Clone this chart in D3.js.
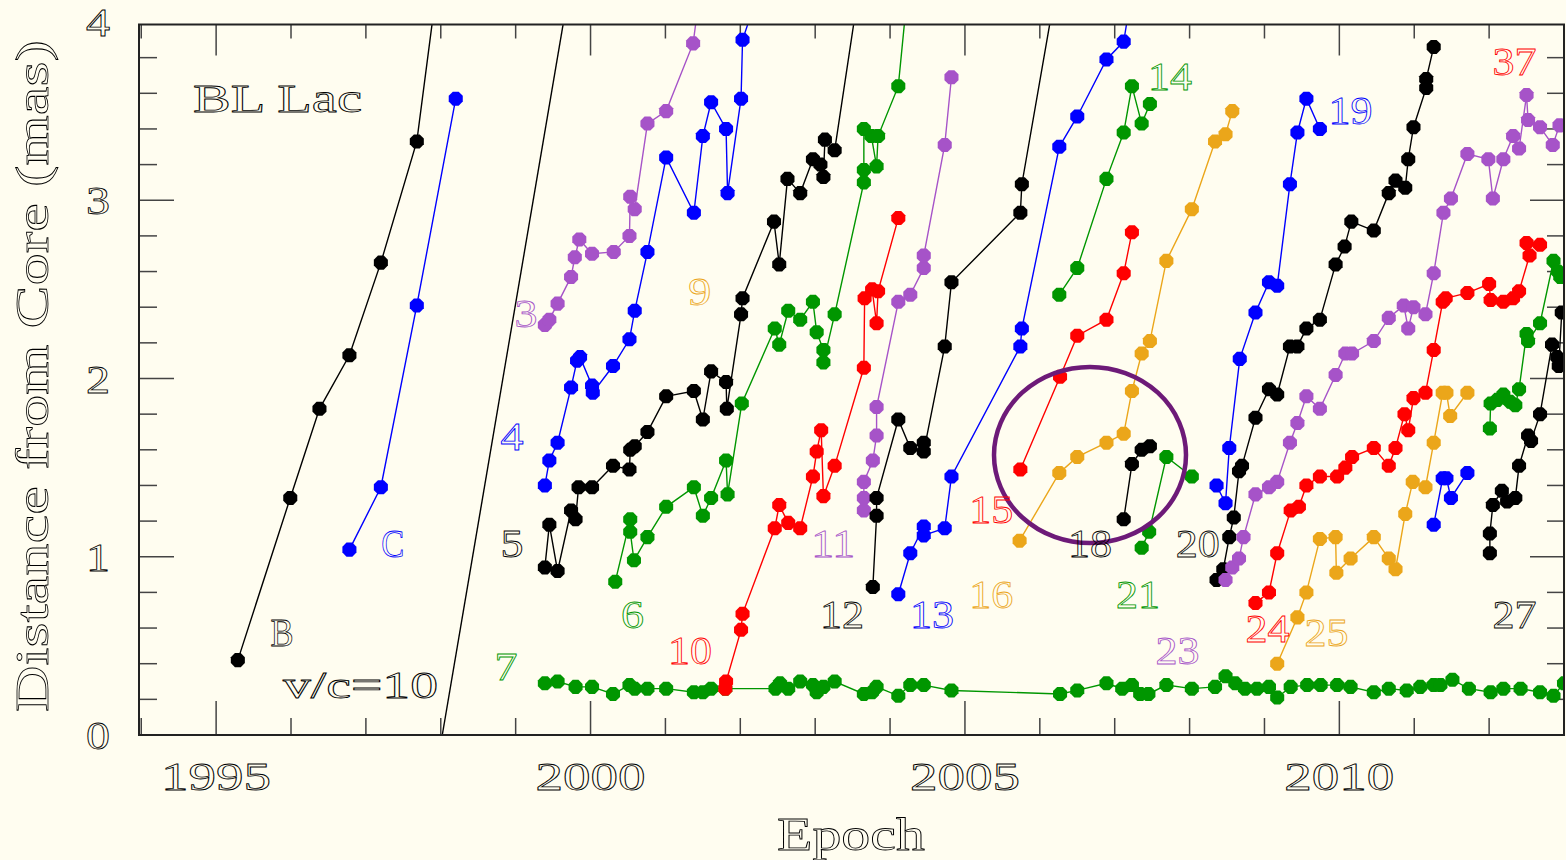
<!DOCTYPE html>
<html>
<head>
<meta charset="utf-8">
<script src="https://cdn.jsdelivr.net/npm/d3@7"></script>
<style>
  html, body { margin: 0; padding: 0; background: #fffdf0; }
  svg { display: block; }
</style>
</head>
<body>
<svg id="chart" width="1566" height="860"></svg>
<script>
// component tracks: [epoch (yr), distance from core (mas)]
// last point of some tracks lies above 4 mas and is clipped by the frame
const compB = [[1995.29,0.42],[1995.99,1.33],[1996.38,1.83],[1996.78,2.13],[1997.20,2.65],[1997.68,3.33],[1997.98,4.3]];
const compC = [[1996.78,1.04],[1997.20,1.39],[1997.68,2.41],[1998.20,3.57]];
const comp3 = [[1999.39,2.30],[1999.45,2.33],[1999.56,2.42],[1999.74,2.57],[1999.79,2.68],[1999.85,2.78],[2000.02,2.70],[2000.31,2.71],[2000.52,2.80],[2000.53,3.02],[2000.59,2.95],[2000.76,3.43],[2001.01,3.50],[2001.37,3.88],[2001.47,4.2]];
const comp4 = [[1999.39,1.40],[1999.45,1.54],[1999.56,1.64],[1999.74,1.95],[1999.82,2.10],[1999.86,2.12],[2000.02,1.96],[2000.03,1.92],[2000.30,2.07],[2000.52,2.22],[2000.59,2.38],[2000.76,2.71],[2001.01,3.24],[2001.38,2.93],[2001.50,3.36],[2001.61,3.55],[2001.81,3.40],[2001.83,3.04],[2002.01,3.57],[2002.03,3.90],[2002.27,4.2]];
const comp5 = [[1999.39,0.94],[1999.45,1.18],[1999.56,0.92],[1999.74,1.26],[1999.80,1.21],[1999.84,1.39],[2000.02,1.39],[2000.30,1.51],[2000.52,1.49],[2000.53,1.60],[2000.59,1.62],[2000.76,1.70],[2001.01,1.90],[2001.38,1.93],[2001.50,1.77],[2001.61,2.04],[2001.81,1.98],[2001.82,1.83],[2002.01,2.36],[2002.03,2.45],[2002.45,2.88],[2002.52,2.64],[2002.63,3.12],[2002.80,3.04],[2002.97,3.23],[2003.07,3.20],[2003.11,3.13],[2003.13,3.34],[2003.26,3.28],[2003.59,4.2]];
const comp6 = [[2000.33,0.86],[2000.53,1.21],[2000.53,1.14],[2000.58,0.98],[2000.76,1.11],[2001.01,1.28],[2001.38,1.39],[2001.50,1.23],[2001.61,1.33],[2001.81,1.54],[2001.83,1.35],[2002.02,1.86],[2002.46,2.28],[2002.52,2.19],[2002.64,2.38],[2002.80,2.33],[2002.97,2.43],[2003.02,2.26],[2003.11,2.16],[2003.11,2.09],[2003.26,2.36],[2003.65,3.10],[2003.65,3.17],[2003.65,3.40],[2003.75,3.36],[2003.82,3.19],[2003.84,3.36],[2004.11,3.64],[2004.24,4.2]];
const comp7 = [[1999.39,0.29],[1999.56,0.30],[1999.80,0.27],[2000.02,0.27],[2000.30,0.23],[2000.52,0.28],[2000.59,0.26],[2000.76,0.26],[2001.01,0.26],[2001.38,0.24],[2001.50,0.24],[2001.61,0.26],[2001.80,0.26],[2002.47,0.26],[2002.53,0.29],[2002.64,0.26],[2002.80,0.30],[2002.97,0.28],[2003.02,0.24],[2003.11,0.27],[2003.26,0.30],[2003.65,0.23],[2003.76,0.24],[2003.82,0.27],[2004.11,0.22],[2004.27,0.28],[2004.45,0.28],[2004.82,0.25],[2006.27,0.23],[2006.50,0.25],[2006.89,0.29],[2007.10,0.26],[2007.23,0.28],[2007.34,0.23],[2007.45,0.23],[2007.69,0.28],[2008.03,0.26],[2008.34,0.27],[2008.48,0.33],[2008.61,0.29],[2008.74,0.26],[2008.90,0.26],[2009.06,0.27],[2009.17,0.21],[2009.35,0.27],[2009.57,0.28],[2009.75,0.28],[2009.97,0.28],[2010.15,0.27],[2010.46,0.24],[2010.66,0.26],[2010.90,0.25],[2011.08,0.27],[2011.26,0.28],[2011.35,0.28],[2011.51,0.31],[2011.73,0.26],[2012.02,0.24],[2012.19,0.26],[2012.42,0.26],[2012.68,0.24],[2012.86,0.22],[2013.00,0.29]];
const comp10 = [[2001.80,0.26],[2001.81,0.30],[2002.01,0.59],[2002.03,0.68],[2002.46,1.16],[2002.52,1.29],[2002.64,1.19],[2002.80,1.16],[2002.97,1.45],[2003.02,1.59],[2003.08,1.71],[2003.11,1.34],[2003.26,1.51],[2003.65,2.06],[2003.66,2.45],[2003.76,2.50],[2003.82,2.31],[2003.84,2.49],[2004.11,2.90]];
const comp11 = [[2003.65,1.26],[2003.65,1.33],[2003.65,1.42],[2003.77,1.54],[2003.82,1.68],[2003.82,1.84],[2004.11,2.43],[2004.27,2.47],[2004.45,2.62],[2004.45,2.69],[2004.73,3.31],[2004.82,3.69]];
const comp12 = [[2003.77,0.83],[2003.82,1.23],[2003.82,1.33],[2004.11,1.77],[2004.27,1.61],[2004.45,1.64],[2004.45,1.59],[2004.73,2.18],[2004.82,2.54],[2005.74,2.93],[2005.76,3.09],[2006.22,4.2]];
const comp13 = [[2004.11,0.79],[2004.27,1.02],[2004.45,1.17],[2004.45,1.12],[2004.73,1.16],[2004.82,1.45],[2005.74,2.18],[2005.76,2.28],[2006.26,3.30],[2006.50,3.47],[2006.89,3.79],[2007.12,3.89],[2007.24,4.2]];
const comp14 = [[2006.26,2.47],[2006.50,2.62],[2006.89,3.12],[2007.12,3.38],[2007.23,3.64],[2007.36,3.43],[2007.47,3.54]];
const comp15 = [[2005.74,1.49],[2006.27,2.01],[2006.50,2.24],[2006.89,2.33],[2007.12,2.59],[2007.23,2.82]];
const comp16 = [[2005.73,1.09],[2006.26,1.47],[2006.50,1.56],[2006.89,1.64],[2007.12,1.69],[2007.23,1.93],[2007.36,2.14],[2007.47,2.21],[2007.69,2.66],[2008.03,2.95],[2008.34,3.33],[2008.48,3.37],[2008.57,3.50]];
const comp18 = [[2007.12,1.21],[2007.23,1.52],[2007.36,1.60],[2007.47,1.62]];
const comp21 = [[2007.36,1.05],[2007.46,1.14],[2007.69,1.56],[2008.03,1.45]];
const comp19 = [[2008.36,1.40],[2008.48,1.30],[2008.53,1.61],[2008.67,2.11],[2008.88,2.37],[2009.06,2.54],[2009.17,2.52],[2009.34,3.09],[2009.44,3.38],[2009.56,3.57],[2009.74,3.40]];
const comp20 = [[2008.36,0.87],[2008.45,0.93],[2008.53,1.11],[2008.59,1.22],[2008.66,1.48],[2008.70,1.51],[2008.88,1.78],[2009.06,1.94],[2009.17,1.91],[2009.34,2.18],[2009.44,2.18],[2009.56,2.28],[2009.74,2.33],[2009.95,2.64],[2010.07,2.74],[2010.16,2.88],[2010.46,2.83],[2010.66,3.04],[2010.75,3.11],[2010.88,3.07],[2010.92,3.23],[2010.99,3.41],[2011.16,3.63],[2011.16,3.68],[2011.26,3.86]];
const comp23 = [[2008.48,0.87],[2008.57,0.94],[2008.66,0.99],[2008.72,1.11],[2008.88,1.35],[2009.06,1.39],[2009.17,1.42],[2009.34,1.64],[2009.44,1.75],[2009.56,1.90],[2009.74,1.83],[2009.95,2.02],[2010.08,2.14],[2010.17,2.14],[2010.46,2.21],[2010.66,2.34],[2010.86,2.41],[2010.92,2.28],[2010.99,2.40],[2011.15,2.36],[2011.26,2.59],[2011.39,2.93],[2011.49,3.01],[2011.71,3.26],[2011.99,3.23],[2012.05,3.01],[2012.19,3.23],[2012.32,3.36],[2012.40,3.29],[2012.50,3.59],[2012.52,3.45],[2012.68,3.41],[2012.85,3.31],[2012.94,3.42]];
const comp24 = [[2008.88,0.74],[2009.06,0.80],[2009.17,1.02],[2009.35,1.26],[2009.46,1.28],[2009.56,1.40],[2009.74,1.45],[2009.97,1.45],[2010.08,1.50],[2010.17,1.56],[2010.46,1.61],[2010.66,1.51],[2010.75,1.61],[2010.87,1.80],[2010.92,1.71],[2010.99,1.89],[2011.15,1.92],[2011.26,2.16],[2011.38,2.43],[2011.42,2.45],[2011.71,2.48],[2012.00,2.53],[2012.02,2.44],[2012.19,2.43],[2012.32,2.45],[2012.40,2.49],[2012.54,2.69],[2012.50,2.76],[2012.68,2.75]];
const comp25 = [[2009.17,0.40],[2009.44,0.66],[2009.56,0.80],[2009.74,1.10],[2009.95,1.11],[2009.96,0.91],[2010.15,0.99],[2010.46,1.11],[2010.66,0.99],[2010.75,0.93],[2010.88,1.24],[2010.98,1.42],[2011.15,1.39],[2011.26,1.64],[2011.38,1.92],[2011.43,1.92],[2011.48,1.79],[2011.71,1.92]];
const compBlueLate = [[2011.26,1.18],[2011.38,1.44],[2011.43,1.44],[2011.49,1.33],[2011.71,1.47]];
const comp27 = [[2012.01,1.02],[2012.01,1.13],[2012.05,1.29],[2012.17,1.37],[2012.24,1.31],[2012.35,1.33],[2012.40,1.51],[2012.52,1.68],[2012.56,1.65],[2012.68,1.80],[2012.84,2.19],[2012.91,2.12],[2012.93,2.07],[2012.97,2.37]];
const compGreenLate = [[2012.01,1.72],[2012.02,1.86],[2012.11,1.88],[2012.19,1.91],[2012.28,1.87],[2012.35,1.85],[2012.40,1.94],[2012.50,2.25],[2012.52,2.21],[2012.68,2.31],[2012.86,2.66],[2012.92,2.60],[2012.95,2.57]];

// v/c = 10 reference line and the highlight ellipse (centre yr, centre mas, half-width yr, half-height mas)
const speedLine = [[1998.02,0],[1999.72,4.2]];
const highlight = [2006.67, 1.571, 1.282, 0.494];

// component labels
const labelNames = ["B","C","3","4","5","7","6","9","10","11","12","13","15","16","14","19","37","18","20","21","23","24","25","27"];
const labelYears = [1995.88,1997.36,1999.14,1998.95,1998.95,1998.87,2000.56,2001.46,2001.33,2003.24,2003.36,2004.56,2005.35,2005.35,2007.74,2010.15,2012.34,2006.67,2008.11,2007.31,2007.84,2009.04,2009.83,2012.34];
const labelMas = [0.50,1.00,2.29,1.60,1.00,0.31,0.60,2.41,0.40,1.00,0.60,0.60,1.19,0.71,3.62,3.43,3.70,1.00,1.00,0.71,0.40,0.52,0.50,0.60];

const xTickYears = [1995, 2000, 2005, 2010];
const yTickValues = [0, 1, 2, 3, 4];

const BLACK = "#000", BLUE = "#0000ff", PURPLE = "#a653c8", GREEN = "#009600", RED = "#f00", ORANGE = "#eba61a";

const components = [
  [compB, BLACK], [compC, BLUE], [comp3, PURPLE], [comp4, BLUE], [comp5, BLACK],
  [comp6, GREEN], [comp7, GREEN], [comp10, RED], [comp11, PURPLE], [comp12, BLACK],
  [comp13, BLUE], [comp14, GREEN], [comp15, RED], [comp16, ORANGE], [comp18, BLACK],
  [comp21, GREEN], [comp19, BLUE], [comp20, BLACK], [comp23, PURPLE], [comp24, RED],
  [comp25, ORANGE], [compBlueLate, BLUE], [comp27, BLACK], [compGreenLate, GREEN]
];
const labelColor = {
  B: BLACK, C: BLUE, "3": PURPLE, "4": BLUE, "5": BLACK, "6": GREEN, "7": GREEN, "9": ORANGE,
  "10": RED, "11": PURPLE, "12": BLACK, "13": BLUE, "14": GREEN, "15": RED, "16": ORANGE,
  "18": BLACK, "19": BLUE, "20": BLACK, "21": GREEN, "23": PURPLE, "24": RED, "25": ORANGE,
  "27": BLACK, "37": RED
};

const svg = d3.select("#chart");
const plotLeft = 139, plotRight = 1564, plotTop = 24.5, plotBottom = 735;

const x = d3.scaleLinear().domain([1993.97, 2013.0]).range([plotLeft, plotRight]);
const y = d3.scaleLinear().domain([0, 4]).range([plotBottom, 22]);

svg.append("rect").attr("width", 1566).attr("height", 860).attr("fill", "#fffdf0");

svg.append("clipPath").attr("id", "plot-clip")
  .append("rect").attr("x", plotLeft).attr("y", plotTop)
  .attr("width", plotRight - plotLeft).attr("height", plotBottom - plotTop);

function hollowText(sel, str, px, py, size, len, color, anchor) {
  return sel.append("text")
    .attr("x", px).attr("y", py)
    .attr("font-family", "'Liberation Serif', 'DejaVu Serif', serif")
    .attr("font-size", size)
    .attr("text-anchor", anchor || "middle")
    .attr("textLength", len).attr("lengthAdjust", "spacingAndGlyphs")
    .attr("fill", "none").attr("stroke", color).attr("stroke-width", 0.8)
    .text(str);
}

function octagon(r) {
  const pts = d3.range(8).map(i => {
    const a = Math.PI / 8 + i * Math.PI / 4;
    return [r * Math.cos(a), r * Math.sin(a)];
  });
  return "M" + pts.join("L") + "Z";
}

// ticks (all pointing inward)
const ticks = svg.append("g").attr("stroke", "#444").attr("stroke-width", 1.5);
const minorYears = d3.range(1994, 2013).filter(v => v % 5 !== 0);
const minorMas = d3.range(1, 20).filter(i => i % 5 !== 0).map(i => i / 5);

function xTicks(vals, y0, len) {
  ticks.selectAll(null).data(vals).join("line")
    .attr("x1", d => x(d)).attr("x2", d => x(d))
    .attr("y1", y0).attr("y2", y0 + len);
}
function yTicks(vals, x0, len) {
  ticks.selectAll(null).data(vals).join("line")
    .attr("y1", d => y(d)).attr("y2", d => y(d))
    .attr("x1", x0).attr("x2", x0 + len);
}
xTicks(xTickYears, plotBottom, -34);
xTicks(minorYears, plotBottom, -17);
xTicks(xTickYears, plotTop, 31);
xTicks(minorYears, plotTop, 14);
yTicks(yTickValues.filter(v => v < 4), plotLeft, 35);
yTicks(minorMas, plotLeft, 18);
yTicks(yTickValues.filter(v => v < 4), plotRight, -34);
yTicks(minorMas, plotRight, -17);

// tracks
const plot = svg.append("g").attr("clip-path", "url(#plot-clip)");
const line = d3.line().x(d => x(d[0])).y(d => y(d[1]));

plot.append("path").datum(speedLine)
  .attr("d", line).attr("fill", "none").attr("stroke", "#000").attr("stroke-width", 1.4);

components.forEach(([data, color]) => {
  const g = plot.append("g");
  g.append("path").datum(data)
    .attr("d", line).attr("fill", "none").attr("stroke", color).attr("stroke-width", 1.4);
  g.selectAll("path.pt").data(data).join("path")
    .attr("class", "pt")
    .attr("transform", d => `translate(${x(d[0])},${y(d[1])})`)
    .attr("d", octagon(7.6))
    .attr("fill", color);
});

// highlight ellipse
plot.append("ellipse")
  .attr("cx", x(highlight[0])).attr("cy", y(highlight[1]))
  .attr("rx", x(highlight[0] + highlight[2]) - x(highlight[0]))
  .attr("ry", y(0) - y(highlight[3]))
  .attr("fill", "none").attr("stroke", "#6d1a78").attr("stroke-width", 4.5);

// component labels
labelNames.forEach((name, i) => {
  const w = name.length === 1 ? 23 : 44;
  hollowText(svg, name, x(labelYears[i]), y(labelMas[i]), 40, w, labelColor[name]);
});

// frame
svg.append("rect")
  .attr("x", plotLeft).attr("y", plotTop)
  .attr("width", plotRight - plotLeft).attr("height", plotBottom - plotTop)
  .attr("fill", "none").attr("stroke", "#222").attr("stroke-width", 2);

// tick labels
xTickYears.forEach(v => hollowText(svg, String(v), x(v), 790, 41, 110, "#000"));
yTickValues.forEach(v => hollowText(svg, String(v), 98, y(v) + 14, 40, 24, "#000"));

// titles and annotations
hollowText(svg, "Epoch", 851, 850, 46, 148, "#000");
hollowText(svg, "Distance from Core (mas)", 0, 0, 46, 672, "#000")
  .attr("transform", "translate(48,376) rotate(-90)");
hollowText(svg, "BL Lac", 193, 112, 40, 169, "#000", "start");
hollowText(svg, "v/c=10", 283, 698, 38, 155, "#000", "start");
</script>
</body>
</html>
